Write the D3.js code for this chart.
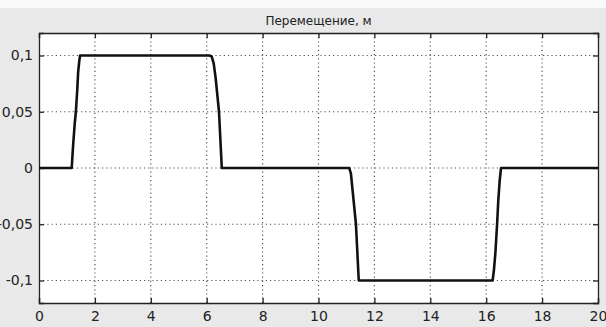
<!DOCTYPE html>
<html>
<head>
<meta charset="utf-8">
<script src="https://cdn.jsdelivr.net/npm/d3@7"></script>
<style>
  body { margin: 0; background: #ffffff; }
  svg { display: block; }
</style>
</head>
<body>
<div id="chart"></div>
<script>
// Daten
const titel = "Перемещение, м";
const zeit = [0, 1.17, 1.22, 1.28, 1.32, 1.37, 1.40, 1.44, 1.47, 6.10, 6.18, 6.25, 6.32, 6.38, 6.44, 6.48, 6.52, 6.54,
  11.10, 11.16, 11.22, 11.28, 11.34, 11.38, 11.42, 11.44, 16.23, 16.28, 16.33, 16.39, 16.43, 16.48, 16.53, 20];
const weg = [0, 0, 0.02, 0.04, 0.05, 0.07, 0.085, 0.095, 0.1, 0.1, 0.099, 0.093, 0.08, 0.065, 0.05, 0.03, 0.01, 0,
  0, -0.005, -0.02, -0.035, -0.05, -0.07, -0.09, -0.1, -0.1, -0.09, -0.075, -0.05, -0.03, -0.012, 0, 0];
const xTicks = [0, 2, 4, 6, 8, 10, 12, 14, 16, 18, 20];
const yTicks = [0.1, 0.05, 0, -0.05, -0.1];
const yTickLabels = ["0,1", "0,05", "0", "-0,05", "-0,1"];

const breite = 606, hoehe = 327;
const rand = { left: 39, right: 598, top: 33, bottom: 303 };
const schrift = "'DejaVu Sans', Verdana, sans-serif";

const svg = d3.select("#chart").append("svg")
  .attr("width", breite)
  .attr("height", hoehe);

// Hintergrund
svg.append("rect").attr("width", breite).attr("height", hoehe).attr("fill", "#e9e9e9");
svg.append("rect").attr("width", breite).attr("height", 8).attr("fill", "#fafafa");
svg.append("rect")
  .attr("x", rand.left).attr("y", rand.top)
  .attr("width", rand.right - rand.left).attr("height", rand.bottom - rand.top)
  .attr("fill", "#ffffff");

const xScale = d3.scaleLinear().domain([0, 20]).range([rand.left, rand.right]);
const yScale = d3.scaleLinear().domain([-0.12, 0.12]).range([rand.bottom, rand.top]);

// Gitter
const gitter = svg.append("g").attr("stroke", "#555").attr("stroke-width", 1.2).attr("stroke-dasharray", "1.2,3");
gitter.selectAll(".vx").data(xTicks.slice(1, -1)).enter().append("line")
  .attr("x1", d => xScale(d)).attr("x2", d => xScale(d))
  .attr("y1", rand.top).attr("y2", rand.bottom);
gitter.selectAll(".hy").data(yTicks).enter().append("line")
  .attr("x1", rand.left).attr("x2", rand.right)
  .attr("y1", d => yScale(d)).attr("y2", d => yScale(d));

// Achsen
const xAxisG = svg.append("g")
  .attr("transform", `translate(0,${rand.bottom})`)
  .call(d3.axisBottom(xScale).tickValues(xTicks).tickSize(-5).tickPadding(8).tickFormat(d3.format("d")));
const xTopG = svg.append("g")
  .attr("transform", `translate(0,${rand.top})`)
  .call(d3.axisTop(xScale).tickValues(xTicks).tickSize(-5).tickFormat(""));
const yAxisG = svg.append("g")
  .attr("transform", `translate(${rand.left},0)`)
  .call(d3.axisLeft(yScale).tickValues(yTicks).tickSize(-5).tickPadding(6)
    .tickFormat((d, i) => yTickLabels[i]));
const yRightG = svg.append("g")
  .attr("transform", `translate(${rand.right},0)`)
  .call(d3.axisRight(yScale).tickValues(yTicks).tickSize(-5).tickFormat(""));

[xAxisG, xTopG, yAxisG, yRightG].forEach(g => {
  g.attr("font-family", schrift).attr("font-size", 14);
  g.selectAll(".domain").attr("stroke", "#222").attr("stroke-width", 1.3);
  g.selectAll("line").attr("stroke", "#222").attr("stroke-width", 1.3);
  g.selectAll("text").attr("fill", "#222");
});

// Titel
svg.append("text")
  .attr("x", (rand.left + rand.right) / 2)
  .attr("y", 25)
  .attr("text-anchor", "middle")
  .attr("fill", "#222")
  .attr("font-family", schrift)
  .attr("font-size", 12)
  .text(titel);

// Kurve
const punkte = zeit.map((t, i) => ({ t, s: weg[i] }));
svg.append("path")
  .datum(punkte)
  .attr("fill", "none")
  .attr("stroke", "#111")
  .attr("stroke-width", 2.6)
  .attr("stroke-linejoin", "round")
  .attr("d", d3.line().x(d => xScale(d.t)).y(d => yScale(d.s)));
</script>
</body>
</html>
